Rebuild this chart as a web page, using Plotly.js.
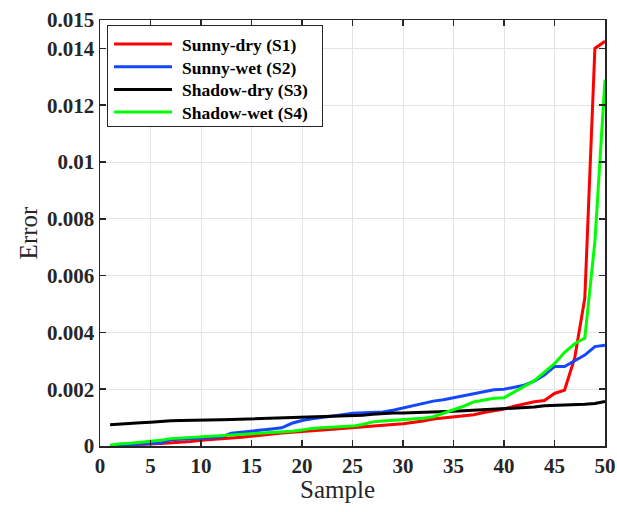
<!DOCTYPE html>
<html>
<head>
<meta charset="utf-8">
<script src="https://cdn.plot.ly/plotly-3.0.1.min.js"></script>
<style>html,body{margin:0;padding:0;background:#fff;}#chart{width:617px;height:512px;}</style>
</head>
<body>
<div id="chart"></div>
<script>
const samples = Array.from({length: 50}, (_, i) => i + 1);

const sunnyDry = [0.00001,0.00002,0.00003,0.00005,0.00007,0.00009,0.00011,0.00013,0.00016,0.0002,
  0.00022,0.00025,0.00028,0.00031,0.00035,0.00038,0.00042,0.00046,0.00048,0.0005,
  0.00053,0.00056,0.00059,0.00062,0.00066,0.00069,0.00072,0.00074,0.00076,0.00078,
  0.00082,0.00088,0.00095,0.00099,0.00102,0.00106,0.0011,0.00118,0.00124,0.0013,
  0.0014,0.00148,0.00156,0.0016,0.00185,0.00197,0.0031,0.0052,0.0140,0.01425];

const sunnyWet = [0.00002,0.00003,0.00005,0.00007,0.00009,0.00011,0.00022,0.00024,0.00026,0.00028,
  0.0003,0.00032,0.00045,0.00048,0.00052,0.00056,0.0006,0.00064,0.0008,0.0009,
  0.00096,0.001,0.00106,0.0011,0.00115,0.00116,0.00117,0.0012,0.00126,0.00134,
  0.0014,0.00148,0.00158,0.00163,0.0017,0.00178,0.00184,0.0019,0.00198,0.002,
  0.00208,0.00214,0.00228,0.0025,0.0028,0.0028,0.0030,0.0032,0.0035,0.00355];

const shadowDry = [0.00075,0.00078,0.0008,0.00082,0.00084,0.00087,0.00089,0.0009,0.0009,0.0009,
  0.00091,0.00092,0.00093,0.00094,0.00095,0.00096,0.00097,0.00098,0.001,0.00101,
  0.00102,0.00103,0.00104,0.00105,0.00106,0.00108,0.00112,0.00115,0.00116,0.00116,
  0.00117,0.00117,0.00118,0.0012,0.00122,0.00124,0.00126,0.00128,0.0013,0.00132,
  0.00134,0.00135,0.00137,0.00142,0.00143,0.00144,0.00145,0.00147,0.0015,0.00157];

const shadowWet = [0.00003,0.00008,0.0001,0.00013,0.00016,0.0002,0.00026,0.00028,0.0003,0.00034,
  0.00036,0.00038,0.0004,0.00042,0.00044,0.00045,0.00046,0.00048,0.00052,0.00056,
  0.00062,0.00064,0.00066,0.00068,0.0007,0.00076,0.00085,0.00088,0.0009,0.00092,
  0.00095,0.00098,0.00103,0.00115,0.00128,0.0014,0.00155,0.00162,0.00168,0.0017,
  0.0019,0.0021,0.0023,0.0026,0.0029,0.0033,0.0036,0.0038,0.0072,0.0129];

const seriesNames = ["Sunny-dry (S1)", "Sunny-wet (S2)", "Shadow-dry (S3)", "Shadow-wet (S4)"];
const seriesColors = ["#ff0000", "#1447ff", "#000000", "#00ff00"];
const seriesData = [sunnyDry, sunnyWet, shadowDry, shadowWet];

const xTicks = [0,5,10,15,20,25,30,35,40,45,50];
const yTickVals = [0,0.002,0.004,0.006,0.008,0.01,0.012,0.014,0.015];
const yTickText = ["0","0.002","0.004","0.006","0.008","0.01","0.012","0.014","0.015"];

const traces = seriesData.map((d, i) => ({
  x: samples, y: d, type: "scatter", mode: "lines",
  name: seriesNames[i],
  line: {color: seriesColors[i], width: 3}
}));

const font = "'Liberation Serif', 'Times New Roman', serif";
const axisCommon = {
  showline: true, linecolor: "#262626", linewidth: 1.5, mirror: "ticks",
  ticks: "inside", ticklen: 6, tickwidth: 1.5, tickcolor: "#262626",
  showgrid: true, gridcolor: "#e3e3e3", gridwidth: 1, zeroline: false,
  tickfont: {family: font, size: 21, color: "#262626", weight: "bold"}
};

const layout = {
  width: 617, height: 512,
  margin: {l: 100, r: 12, t: 20, b: 66},
  paper_bgcolor: "#ffffff", plot_bgcolor: "#ffffff",
  showlegend: true,
  legend: {
    x: 0.0139, y: 0.988, xanchor: "left", yanchor: "top",
    bgcolor: "#ffffff", bordercolor: "#262626", borderwidth: 1,
    font: {family: font, size: 17.5, color: "#000000", weight: "bold"},
    itemwidth: 64,
    tracegroupgap: 0
  },
  xaxis: Object.assign({}, axisCommon, {
    range: [0, 50], tickmode: "array", tickvals: xTicks
  }),
  yaxis: Object.assign({}, axisCommon, {
    range: [0, 0.015], tickmode: "array", tickvals: yTickVals, ticktext: yTickText,
    title: {text: "Error", font: {family: font, size: 25, color: "#262626"}, standoff: 2}
  }),
  annotations: [{
    text: "Sample", xref: "paper", yref: "paper", x: 0.471, y: -0.103,
    xanchor: "center", yanchor: "middle", showarrow: false,
    font: {family: font, size: 25, color: "#262626"}
  }]
};

Plotly.newPlot("chart", traces, layout, {displayModeBar: false, staticPlot: true}).then(gd => {
  // lengthen legend line samples and tighten row spacing to match the reference look
  gd.querySelectorAll(".legend .legendlines path").forEach(p => p.setAttribute("d", "M6,0h58"));
  const items = Array.from(gd.querySelectorAll(".legend .traces"));
  let firstY = null, lastY = null;
  items.forEach((t, i) => {
    const m = /translate\(\s*([-\d.]+)[ ,]+([-\d.]+)\s*\)/.exec(t.getAttribute("transform") || "");
    if (!m) return;
    const x = parseFloat(m[1]);
    const y = parseFloat(m[2]);
    if (firstY === null) firstY = y;
    const ny = firstY + i * 22.7;
    lastY = ny;
    t.setAttribute("transform", "translate(" + x + "," + ny + ")");
  });
  const bg = gd.querySelector(".legend .bg");
  if (bg && lastY !== null) {
    bg.setAttribute("height", String(lastY + 14));
    bg.setAttribute("width", "215");
  }
});
</script>
</body>
</html>
